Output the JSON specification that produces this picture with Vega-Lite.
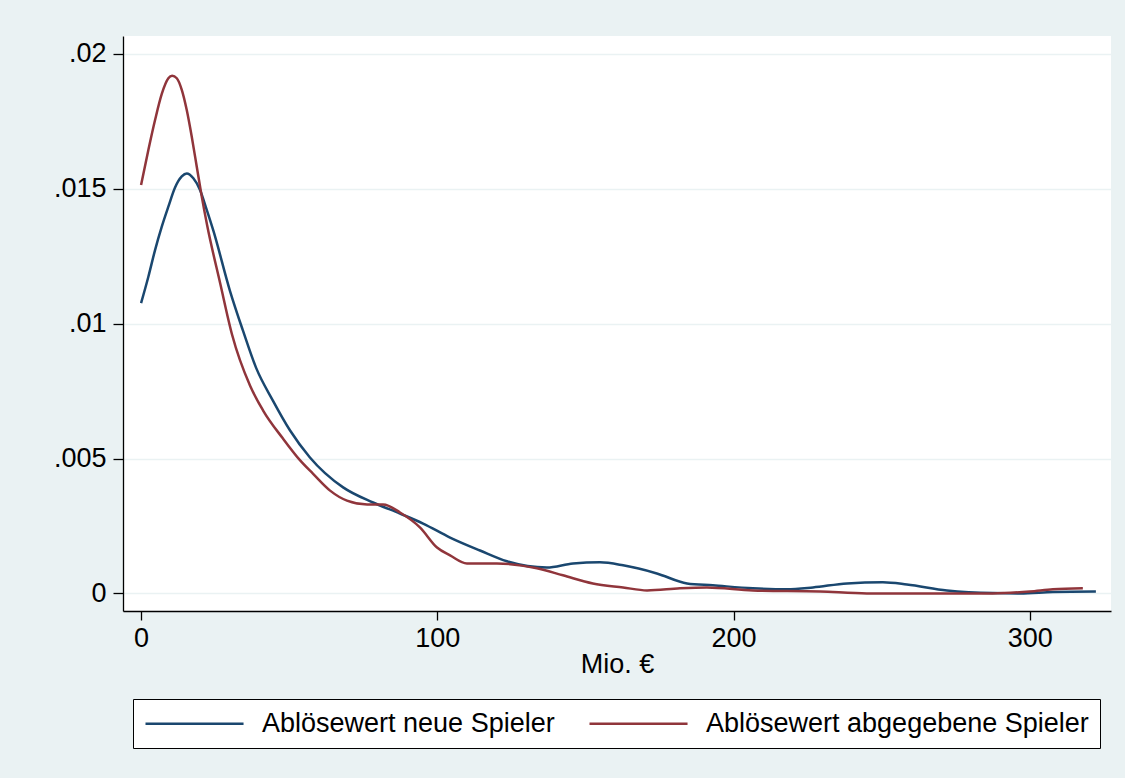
{
  "$schema": "https://vega.github.io/schema/vega-lite/v6.json",
  "width": 988,
  "height": 575,
  "autosize": {"type": "none"},
  "padding": {"left": 123, "top": 36, "right": 14, "bottom": 167},
  "background": "#EAF2F3",
  "config": {
    "view": {"stroke": null, "fill": "#FFFFFF"},
    "font": "Liberation Sans"
  },
  "datasets": {
    "kd": [
      {"s": "Ablösewert neue Spieler", "x": 0, "y": 0.01076},
      {"s": "Ablösewert neue Spieler", "x": 2.46, "y": 0.01174},
      {"s": "Ablösewert neue Spieler", "x": 4.72, "y": 0.01273},
      {"s": "Ablösewert neue Spieler", "x": 6.99, "y": 0.0136},
      {"s": "Ablösewert neue Spieler", "x": 9.21, "y": 0.01434},
      {"s": "Ablösewert neue Spieler", "x": 11.47, "y": 0.01505},
      {"s": "Ablösewert neue Spieler", "x": 13.74, "y": 0.01546},
      {"s": "Ablösewert neue Spieler", "x": 15.42, "y": 0.01557},
      {"s": "Ablösewert neue Spieler", "x": 17.65, "y": 0.01539},
      {"s": "Ablösewert neue Spieler", "x": 19.9, "y": 0.01496},
      {"s": "Ablösewert neue Spieler", "x": 22.17, "y": 0.01422},
      {"s": "Ablösewert neue Spieler", "x": 24.4, "y": 0.01345},
      {"s": "Ablösewert neue Spieler", "x": 30, "y": 0.01122},
      {"s": "Ablösewert neue Spieler", "x": 34.4, "y": 0.00974},
      {"s": "Ablösewert neue Spieler", "x": 38.8, "y": 0.00837},
      {"s": "Ablösewert neue Spieler", "x": 44.5, "y": 0.00715},
      {"s": "Ablösewert neue Spieler", "x": 50.3, "y": 0.00604},
      {"s": "Ablösewert neue Spieler", "x": 57, "y": 0.00504},
      {"s": "Ablösewert neue Spieler", "x": 68.2, "y": 0.00393},
      {"s": "Ablösewert neue Spieler", "x": 78.3, "y": 0.00337},
      {"s": "Ablösewert neue Spieler", "x": 87.4, "y": 0.00296},
      {"s": "Ablösewert neue Spieler", "x": 95.2, "y": 0.00259},
      {"s": "Ablösewert neue Spieler", "x": 104.3, "y": 0.00207},
      {"s": "Ablösewert neue Spieler", "x": 114.4, "y": 0.00159},
      {"s": "Ablösewert neue Spieler", "x": 123.5, "y": 0.00119},
      {"s": "Ablösewert neue Spieler", "x": 137, "y": 0.00096},
      {"s": "Ablösewert neue Spieler", "x": 145.8, "y": 0.00111},
      {"s": "Ablösewert neue Spieler", "x": 154.9, "y": 0.00115},
      {"s": "Ablösewert neue Spieler", "x": 162.7, "y": 0.00104},
      {"s": "Ablösewert neue Spieler", "x": 174.1, "y": 0.00074},
      {"s": "Ablösewert neue Spieler", "x": 184.3, "y": 0.00037},
      {"s": "Ablösewert neue Spieler", "x": 193, "y": 0.0003},
      {"s": "Ablösewert neue Spieler", "x": 206.5, "y": 0.00019},
      {"s": "Ablösewert neue Spieler", "x": 218, "y": 0.00015},
      {"s": "Ablösewert neue Spieler", "x": 226.8, "y": 0.00022},
      {"s": "Ablösewert neue Spieler", "x": 238.3, "y": 0.00037},
      {"s": "Ablösewert neue Spieler", "x": 250.4, "y": 0.00041},
      {"s": "Ablösewert neue Spieler", "x": 258.5, "y": 0.00033},
      {"s": "Ablösewert neue Spieler", "x": 272, "y": 0.00011},
      {"s": "Ablösewert neue Spieler", "x": 287.5, "y": 0.00001},
      {"s": "Ablösewert neue Spieler", "x": 296.7, "y": 0.0},
      {"s": "Ablösewert neue Spieler", "x": 307.8, "y": 0.00005},
      {"s": "Ablösewert neue Spieler", "x": 322.3, "y": 0.00007},
      {"s": "Ablösewert abgegebene Spieler", "x": 0, "y": 0.01514},
      {"s": "Ablösewert abgegebene Spieler", "x": 2.46, "y": 0.01644},
      {"s": "Ablösewert abgegebene Spieler", "x": 4.72, "y": 0.01755},
      {"s": "Ablösewert abgegebene Spieler", "x": 6.99, "y": 0.01852},
      {"s": "Ablösewert abgegebene Spieler", "x": 9.21, "y": 0.0191},
      {"s": "Ablösewert abgegebene Spieler", "x": 10.5, "y": 0.01919},
      {"s": "Ablösewert abgegebene Spieler", "x": 12.05, "y": 0.0191},
      {"s": "Ablösewert abgegebene Spieler", "x": 13.74, "y": 0.01867},
      {"s": "Ablösewert abgegebene Spieler", "x": 15.42, "y": 0.01792},
      {"s": "Ablösewert abgegebene Spieler", "x": 17.11, "y": 0.01693},
      {"s": "Ablösewert abgegebene Spieler", "x": 18.8, "y": 0.01582},
      {"s": "Ablösewert abgegebene Spieler", "x": 20.49, "y": 0.01471},
      {"s": "Ablösewert abgegebene Spieler", "x": 22.3, "y": 0.01365},
      {"s": "Ablösewert abgegebene Spieler", "x": 26.7, "y": 0.0115},
      {"s": "Ablösewert abgegebene Spieler", "x": 30.7, "y": 0.0096},
      {"s": "Ablösewert abgegebene Spieler", "x": 36.8, "y": 0.0077},
      {"s": "Ablösewert abgegebene Spieler", "x": 41.2, "y": 0.00678},
      {"s": "Ablösewert abgegebene Spieler", "x": 47.9, "y": 0.00574},
      {"s": "Ablösewert abgegebene Spieler", "x": 53.7, "y": 0.00493},
      {"s": "Ablösewert abgegebene Spieler", "x": 58, "y": 0.00444},
      {"s": "Ablösewert abgegebene Spieler", "x": 63.8, "y": 0.00381},
      {"s": "Ablösewert abgegebene Spieler", "x": 69.5, "y": 0.00344},
      {"s": "Ablösewert abgegebene Spieler", "x": 76.3, "y": 0.0033},
      {"s": "Ablösewert abgegebene Spieler", "x": 81.7, "y": 0.0033},
      {"s": "Ablösewert abgegebene Spieler", "x": 87.4, "y": 0.003},
      {"s": "Ablösewert abgegebene Spieler", "x": 94.2, "y": 0.00244},
      {"s": "Ablösewert abgegebene Spieler", "x": 99.9, "y": 0.0017},
      {"s": "Ablösewert abgegebene Spieler", "x": 104.3, "y": 0.00141},
      {"s": "Ablösewert abgegebene Spieler", "x": 110, "y": 0.00111},
      {"s": "Ablösewert abgegebene Spieler", "x": 120.1, "y": 0.00111},
      {"s": "Ablösewert abgegebene Spieler", "x": 133.6, "y": 0.00093},
      {"s": "Ablösewert abgegebene Spieler", "x": 142.4, "y": 0.00067},
      {"s": "Ablösewert abgegebene Spieler", "x": 152.5, "y": 0.00037},
      {"s": "Ablösewert abgegebene Spieler", "x": 162.7, "y": 0.00022},
      {"s": "Ablösewert abgegebene Spieler", "x": 170.8, "y": 0.00011},
      {"s": "Ablösewert abgegebene Spieler", "x": 181.9, "y": 0.00019},
      {"s": "Ablösewert abgegebene Spieler", "x": 191, "y": 0.00022},
      {"s": "Ablösewert abgegebene Spieler", "x": 206.5, "y": 0.00011},
      {"s": "Ablösewert abgegebene Spieler", "x": 229.2, "y": 0.00007},
      {"s": "Ablösewert abgegebene Spieler", "x": 245, "y": 0.0},
      {"s": "Ablösewert abgegebene Spieler", "x": 262.9, "y": 0.0},
      {"s": "Ablösewert abgegebene Spieler", "x": 287.5, "y": 0.0},
      {"s": "Ablösewert abgegebene Spieler", "x": 300, "y": 0.00007},
      {"s": "Ablösewert abgegebene Spieler", "x": 307.8, "y": 0.00015},
      {"s": "Ablösewert abgegebene Spieler", "x": 317.9, "y": 0.00019}
    ]
  },
  "data": {"name": "kd"},
  "mark": {"type": "line", "strokeWidth": 2.5, "interpolate": "monotone"},
  "encoding": {
    "x": {
      "field": "x",
      "type": "quantitative",
      "scale": {"domain": [-6.1, 327.4], "nice": false, "zero": false},
      "axis": {
        "values": [0, 100, 200, 300],
        "title": "Mio. €",
        "titleFontSize": 27,
        "titleFontWeight": "normal",
        "titleColor": "#000000",
        "titlePadding": 0,
        "labelFontSize": 27,
        "labelColor": "#000000",
        "labelPadding": 5,
        "labelFlush": false,
        "labelOverlap": false,
        "tickColor": "#000000",
        "tickSize": 9,
        "tickWidth": 1.3,
        "domainColor": "#000000",
        "domainWidth": 1.3,
        "grid": false
      }
    },
    "y": {
      "field": "y",
      "type": "quantitative",
      "scale": {"domain": [-0.000653, 0.020667], "nice": false, "zero": false},
      "axis": {
        "values": [0, 0.005, 0.01, 0.015, 0.02],
        "labelExpr": "datum.value == 0 ? '0' : slice(format(datum.value, '~g'), 1)",
        "title": null,
        "labelFontSize": 27,
        "labelColor": "#000000",
        "labelPadding": 7,
        "labelFlush": false,
        "labelOverlap": false,
        "tickColor": "#000000",
        "tickSize": 10,
        "tickWidth": 1.3,
        "domainColor": "#000000",
        "domainWidth": 1.3,
        "grid": true,
        "gridColor": "#EAF2F3",
        "gridWidth": 1.5
      }
    },
    "color": {
      "field": "s",
      "type": "nominal",
      "scale": {
        "domain": ["Ablösewert neue Spieler", "Ablösewert abgegebene Spieler"],
        "range": ["#1A476F", "#90353B"]
      },
      "legend": {
        "title": null,
        "orient": "none",
        "legendX": 10,
        "legendY": 663,
        "direction": "horizontal",
        "fillColor": "#FFFFFF",
        "strokeColor": "#000000",
        "padding": 11,
        "symbolType": "M-1,0H7.17",
        "symbolSize": 576,
        "symbolStrokeWidth": 2.5,
        "labelFontSize": 27,
        "labelColor": "#000000",
        "labelOffset": 91,
        "labelLimit": 1000,
        "columnPadding": 29
      }
    }
  }
}
